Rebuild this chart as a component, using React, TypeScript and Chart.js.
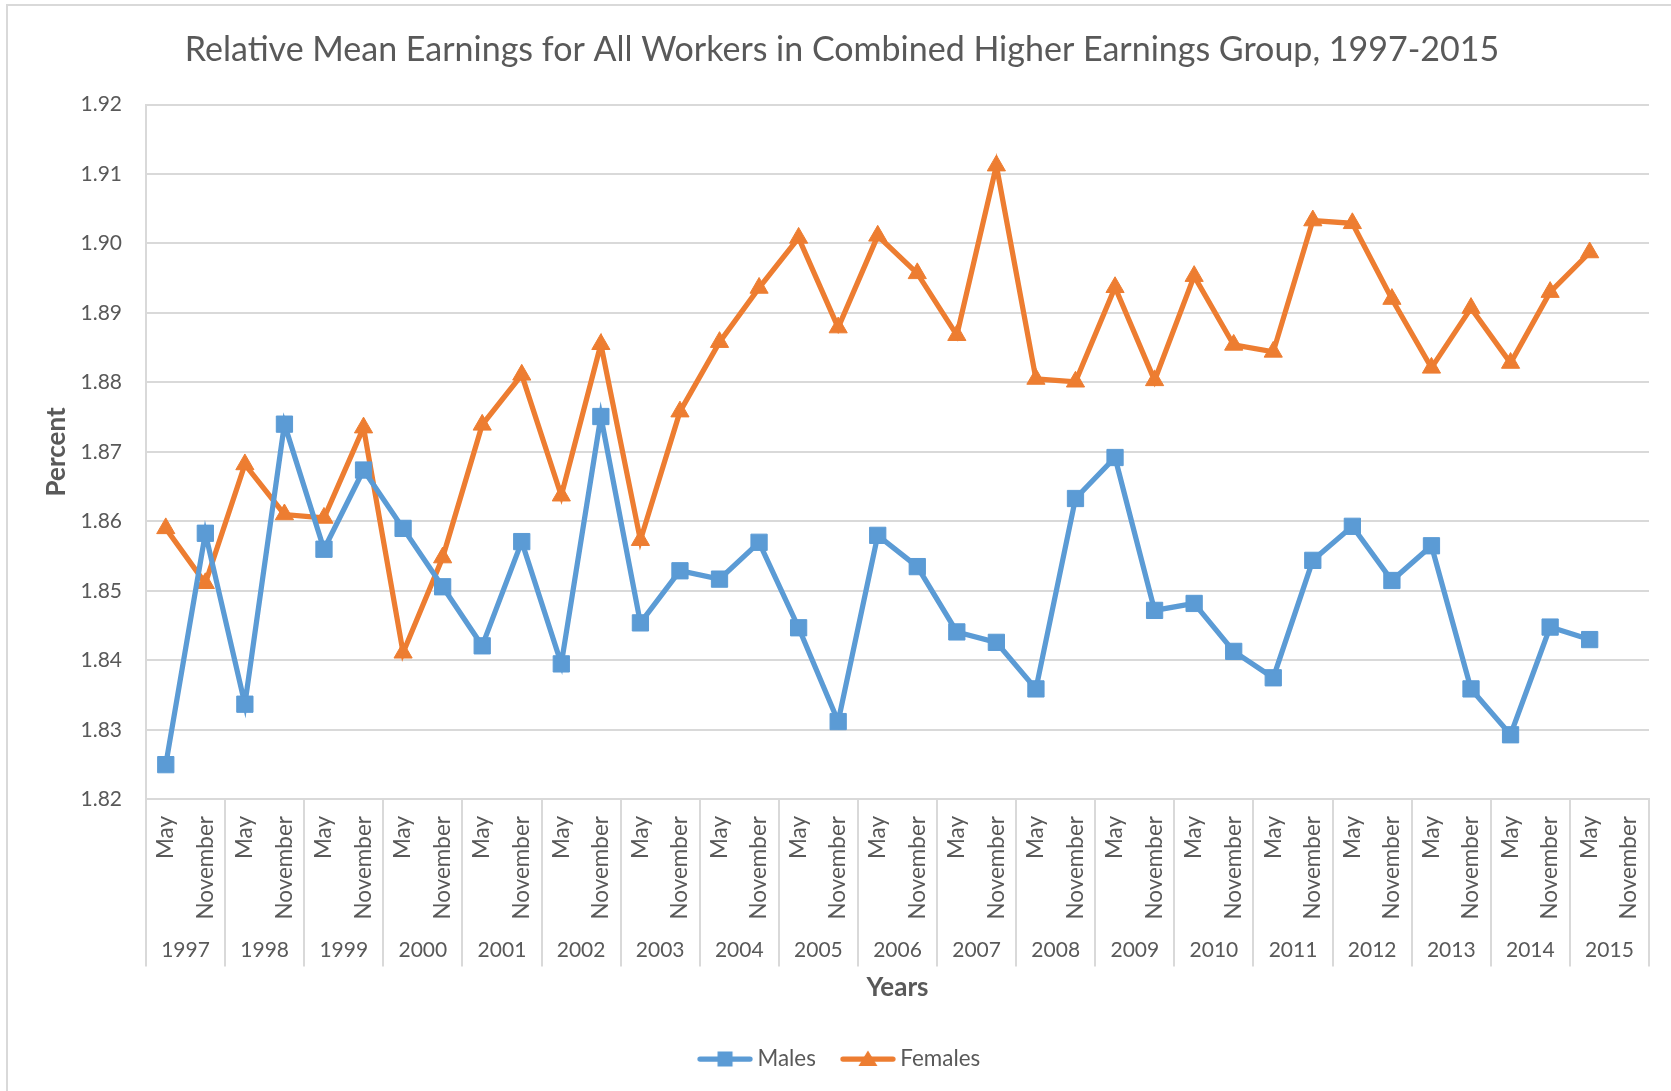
import { useEffect, useRef } from 'react';
import { Chart, registerables } from 'chart.js';

Chart.register(...registerables);

const TITLE = 'Relative Mean Earnings for All Workers in Combined Higher Earnings Group, 1997-2015';
const Y_TITLE = 'Percent';
const X_TITLE = 'Years';

const YEARS = ['1997', '1998', '1999', '2000', '2001', '2002', '2003', '2004', '2005', '2006',
  '2007', '2008', '2009', '2010', '2011', '2012', '2013', '2014', '2015'];
const HALVES = ['May', 'November'];

const MALES = [
  1.8250, 1.8583,
  1.8337, 1.8740,
  1.8560, 1.8674,
  1.8590, 1.8506,
  1.8421, 1.8571,
  1.8395, 1.8751,
  1.8454, 1.8529,
  1.8517, 1.8570,
  1.8447, 1.8312,
  1.8580, 1.8535,
  1.8441, 1.8426,
  1.8359, 1.8633,
  1.8692, 1.8472,
  1.8482, 1.8413,
  1.8375, 1.8544,
  1.8593, 1.8515,
  1.8565, 1.8359,
  1.8293, 1.8448,
  1.8430,
];

const FEMALES = [
  1.8590, 1.8511,
  1.8682, 1.8610,
  1.8605, 1.8735,
  1.8411, 1.8548,
  1.8739, 1.8811,
  1.8637, 1.8855,
  1.8573, 1.8758,
  1.8858, 1.8936,
  1.9008, 1.8879,
  1.9011, 1.8957,
  1.8868, 1.9112,
  1.8805, 1.8801,
  1.8937, 1.8803,
  1.8953, 1.8854,
  1.8844, 1.9033,
  1.9029, 1.8920,
  1.8821, 1.8907,
  1.8828, 1.8930,
  1.8987,
];

const Y_MIN = 1.82;
const Y_MAX = 1.92;
const Y_STEP = 0.01;

const BLUE = '#5B9BD5';
const ORANGE = '#ED7D31';
const TEXT = '#595959';
const GRID = '#D9D9D9';
const FONT = 'Lato, "Open Sans", sans-serif';

function makeLegendIcon(color: string, shape: 'rect' | 'triangle') {
  const c = document.createElement('canvas');
  c.width = 56;
  c.height = 22;
  const g = c.getContext('2d')!;
  g.strokeStyle = color;
  g.lineWidth = 5.25;
  g.lineCap = 'round';
  g.beginPath();
  g.moveTo(3, 11);
  g.lineTo(53, 11);
  g.stroke();
  g.fillStyle = color;
  if (shape === 'rect') {
    g.fillRect(28 - 7.5, 11 - 7.5, 15, 15);
  } else {
    g.beginPath();
    g.moveTo(28, 11 - 8.5);
    g.lineTo(28 + 9.5, 11 + 7);
    g.lineTo(28 - 9.5, 11 + 7);
    g.closePath();
    g.fill();
  }
  return c;
}

export default function App() {
  const ref = useRef<HTMLCanvasElement | null>(null);

  useEffect(() => {
    if (!ref.current) return;
    const icons = [makeLegendIcon(BLUE, 'rect'), makeLegendIcon(ORANGE, 'triangle')];
    const labels = YEARS.flatMap(() => HALVES);

    const chart = new Chart(ref.current, {
      type: 'line',
      data: {
        labels,
        datasets: [
          {
            label: 'Males',
            data: MALES,
            borderColor: BLUE,
            backgroundColor: BLUE,
            pointBackgroundColor: BLUE,
            pointBorderColor: BLUE,
            pointStyle: 'rect',
            pointRadius: 11.5,
            pointBorderWidth: 1,
            borderWidth: 5.25,
            tension: 0,
            xAxisID: 'x',
            yAxisID: 'y',
          },
          {
            label: 'Females',
            data: FEMALES,
            borderColor: ORANGE,
            backgroundColor: ORANGE,
            pointBackgroundColor: ORANGE,
            pointBorderColor: ORANGE,
            pointStyle: 'triangle',
            pointRadius: 10.5,
            pointBorderWidth: 1,
            borderWidth: 5.25,
            tension: 0,
            xAxisID: 'x',
            yAxisID: 'y',
          },
        ],
      },
      options: {
        responsive: false,
        animation: false,
        layout: { padding: { left: 35, right: 22, top: 0, bottom: 10.8 } },
        plugins: {
          title: {
            display: true,
            text: TITLE,
            color: TEXT,
            font: { family: FONT, size: 34, weight: 'normal' },
            padding: { top: 29.6, bottom: 34.1 },
          },
          legend: {
            position: 'bottom',
            labels: {
              usePointStyle: true,
              pointStyleWidth: 42.5,
              color: TEXT,
              font: { family: FONT, size: 22.4 },
              padding: 30.75,
              generateLabels: (ch: any) =>
                (Chart.defaults.plugins.legend.labels.generateLabels as any)(ch).map((it: any, i: number) => ({
                  ...it,
                  pointStyle: icons[i],
                })),
            },
          },
          tooltip: { enabled: false },
        },
        scales: {
          x: {
            type: 'category',
            position: 'bottom',
            offset: true,
            weight: 0,
            grid: {
              display: true,
              drawOnChartArea: false,
              drawTicks: true,
              tickLength: 167,
              offset: true,
              lineWidth: 2,
              color: (c: any) => (c.index === undefined || c.index % 2 === 0 ? GRID : 'rgba(0,0,0,0)'),
            },
            border: { display: true, color: GRID, width: 2 },
            ticks: {
              autoSkip: false,
              minRotation: 90,
              maxRotation: 90,
              padding: -150.4,
              color: TEXT,
              font: { family: FONT, size: 22.5 },
            },
            afterFit: (s: any) => {
              s.height = 120;
            },
          },
          x2: {
            type: 'category',
            position: 'bottom',
            labels: YEARS,
            offset: true,
            weight: 1,
            grid: { display: false, drawTicks: false },
            border: { display: false },
            ticks: {
              autoSkip: false,
              minRotation: 0,
              maxRotation: 0,
              padding: 18.5,
              color: TEXT,
              font: { family: FONT, size: 21 },
            },
            title: {
              display: true,
              text: X_TITLE,
              color: TEXT,
              font: { family: FONT, size: 26, weight: 'bold' },
              padding: { top: 0, bottom: 13.45 },
            },
            afterFit: (s: any) => {
              s.height = 97.65;
            },
          },
          y: {
            min: Y_MIN,
            max: Y_MAX,
            ticks: {
              stepSize: Y_STEP,
              padding: 24,
              color: TEXT,
              font: { family: FONT, size: 21 },
              callback: (v: any) => Number(v).toFixed(2),
            },
            grid: { color: GRID, lineWidth: 2, drawTicks: false },
            border: { display: true, color: GRID, width: 2 },
            title: {
              display: true,
              text: Y_TITLE,
              color: TEXT,
              font: { family: FONT, size: 26, weight: 'bold' },
              padding: { top: 6.1, bottom: 0 },
            },
            afterFit: (s: any) => {
              s.width = 111;
            },
          },
        },
      } as any,
    });

    return () => chart.destroy();
  }, []);

  return (
    <div style={{ position: 'fixed', left: 0, top: 0, width: 1671, height: 1091, background: '#fff', overflow: 'hidden' }}>
      <div style={{ position: 'absolute', left: 6, top: 4, width: 2, height: 1087, background: GRID }} />
      <div style={{ position: 'absolute', left: 6, top: 4, width: 1665, height: 2, background: GRID }} />
      <canvas ref={ref} width={1671} height={1091} style={{ position: 'absolute', left: 0, top: 0, display: 'block' }} />
    </div>
  );
}
